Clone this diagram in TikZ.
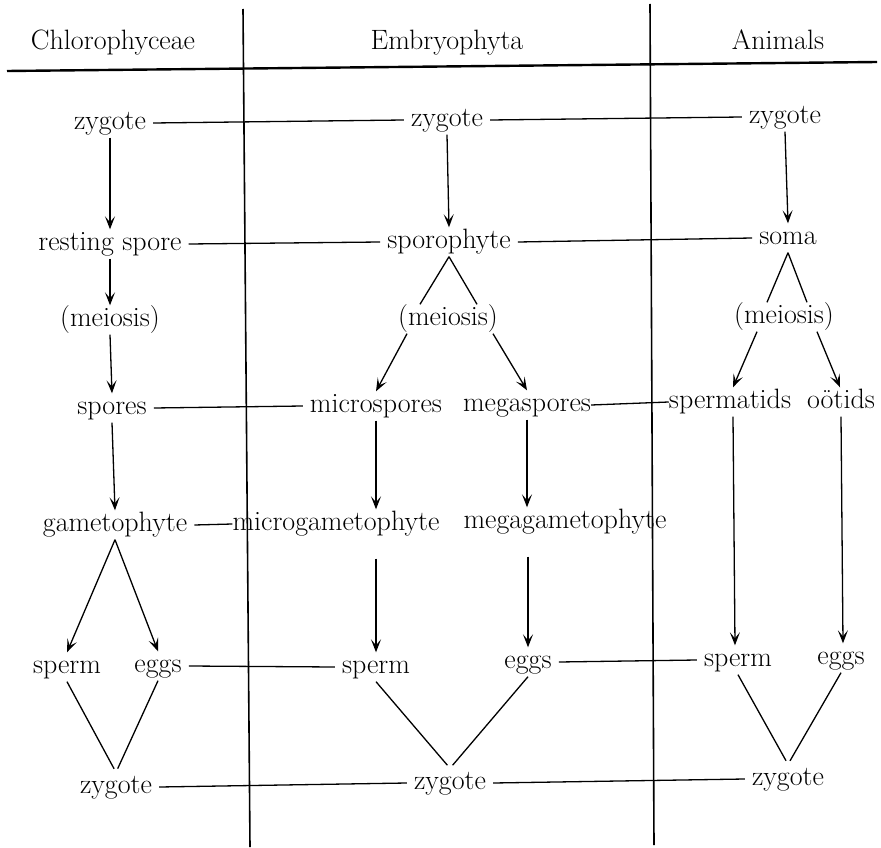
\documentclass[tikz,border=0pt]{standalone}
\usetikzlibrary{arrows.meta,calc}
\begin{document}
\begin{tikzpicture}[x=1pt,y=-1pt,
  lbl/.style={inner xsep=7pt,inner ysep=3pt,text height=18pt,text depth=5pt,font=\fontsize{28}{33}\selectfont},
  link/.style={line width=1.3pt},
  arr/.style={line width=1.3pt,-{Stealth[length=13pt,width=10pt,inset=6pt]}},
  divider/.style={line width=1.6pt},
  headrule/.style={line width=2.4pt}]
\useasboundingbox (0,0) rectangle (881,848);
% headers
\node[lbl] (hA) at (113,43) {Chlorophyceae};
\node[lbl] (hB) at (447,43) {Embryophyta};
\node[lbl] (hC) at (778,43) {Animals};
\draw[headrule] (7,71) -- (877,62);
\draw[divider] (243,9) -- (250,847);
\draw[divider] (650,4) -- (654,845);
% row 1
\node[lbl] (zA) at (110,123) {zygote};
\node[lbl] (zB) at (447,120) {zygote};
\node[lbl] (zC) at (785,117) {zygote};
% row 2
\node[lbl] (rs) at (110,244) {resting spore};
\node[lbl] (sporo) at (449,242) {sporophyte};
\node[lbl] (soma) at (788,238) {soma};
% row 3
\node[lbl] (meiA) at (110,320) {(meiosis)};
\node[lbl] (meiB) at (448,319) {(meiosis)};
\node[lbl] (meiC) at (784,317) {(meiosis)};
% row 4
\node[lbl] (spores) at (112,408) {spores};
\node[lbl] (micro) at (376,406) {microspores};
\node[lbl] (mega) at (527,405) {megaspores};
\node[lbl] (sptd) at (730,402) {spermatids};
\node[lbl] (oot) at (841,402) {o\"otids};
% row 5
\node[lbl] (gam) at (115,525) {gametophyte};
\node[lbl] (mgam) at (336,524) {microgametophyte};
\node[lbl] (megam) at (565,522) {megagametophyte};
% row 6
\node[lbl] (spermA) at (67,667) {sperm};
\node[lbl] (eggsA) at (158,666) {eggs};
\node[lbl] (spermB) at (376,667) {sperm};
\node[lbl] (eggsB) at (528,662) {eggs};
\node[lbl] (spermC) at (738,660) {sperm};
\node[lbl] (eggsC) at (841,658) {eggs};
% row 7
\node[lbl] (zA2) at (116,787) {zygote};
\node[lbl] (zB2) at (450,783) {zygote};
\node[lbl] (zC2) at (788,779) {zygote};
% connectors row 1-2
\draw[link] (zA.east) -- (zB.west);
\draw[link] (zB.east) -- (zC.west);
\draw[arr] (zA.south) -- (rs.north);
\draw[arr] (zB.south) -- (sporo.north);
\draw[arr] (zC.south) -- (soma.north);
\draw[link] (rs.east) -- (sporo.west);
\draw[link] (sporo.east) -- (soma.west);
% meiosis
\draw[arr] (rs.south) -- (meiA.north);
\draw[arr] (meiA.south) -- (spores.north);
\draw[link] (sporo.south) -- ([xshift=-28pt]meiB.north);
\draw[link] (sporo.south) -- ([xshift=29pt]meiB.north);
\draw[arr] ([xshift=-41pt]meiB.south) -- (micro.north);
\draw[arr] ([xshift=45pt]meiB.south) -- (mega.north);
\draw[link] (soma.south) -- ([xshift=-17pt]meiC.north);
\draw[link] (soma.south) -- ([xshift=23pt]meiC.north);
\draw[arr] ([xshift=-27pt]meiC.south) -- ([xshift=3pt]sptd.north);
\draw[arr] ([xshift=33pt]meiC.south) -- ([xshift=-1pt]oot.north);
% row 4
\draw[link] (spores.east) -- (micro.west);
\draw[link] ([xshift=-7pt]mega.east) -- ([xshift=7pt]sptd.west);
\draw[arr] (spores.south) -- (gam.north);
\draw[arr] (micro.south) -- (micro.south |- mgam.north);
\draw[arr] (mega.south) -- (mega.south |- megam.north);
\draw[arr] ([xshift=3pt]sptd.south) -- ([xshift=-3pt]spermC.north);
\draw[arr] (oot.south) -- ([xshift=2pt]eggsC.north);
% row 5
\draw[link] (gam.east) -- ([xshift=7pt]mgam.west);
\draw[arr] (gam.south) -- (spermA.north);
\draw[arr] (gam.south) -- (eggsA.north);
\draw[arr,shorten <=20pt] (spermB.north |- mgam.south) -- (spermB.north);
\draw[arr,shorten <=20pt] (eggsB.north |- megam.south) -- (eggsB.north);
% row 6
\draw[link] (eggsA.east) -- (spermB.west);
\draw[link] (eggsB.east) -- (spermC.west);
\draw[link,shorten >=4pt] (spermA.south) -- (zA2.north);
\draw[link,shorten >=4pt] (eggsA.south) -- (zA2.north);
\draw[link,shorten >=4pt] (spermB.south) -- (zB2.north);
\draw[link,shorten >=4pt] (eggsB.south) -- (zB2.north);
\draw[link,shorten >=4pt] (spermC.south) -- (zC2.north);
\draw[link,shorten >=4pt] (eggsC.south) -- (zC2.north);
% row 7
\draw[link] (zA2.east) -- (zB2.west);
\draw[link] (zB2.east) -- (zC2.west);
\end{tikzpicture}
\end{document}
